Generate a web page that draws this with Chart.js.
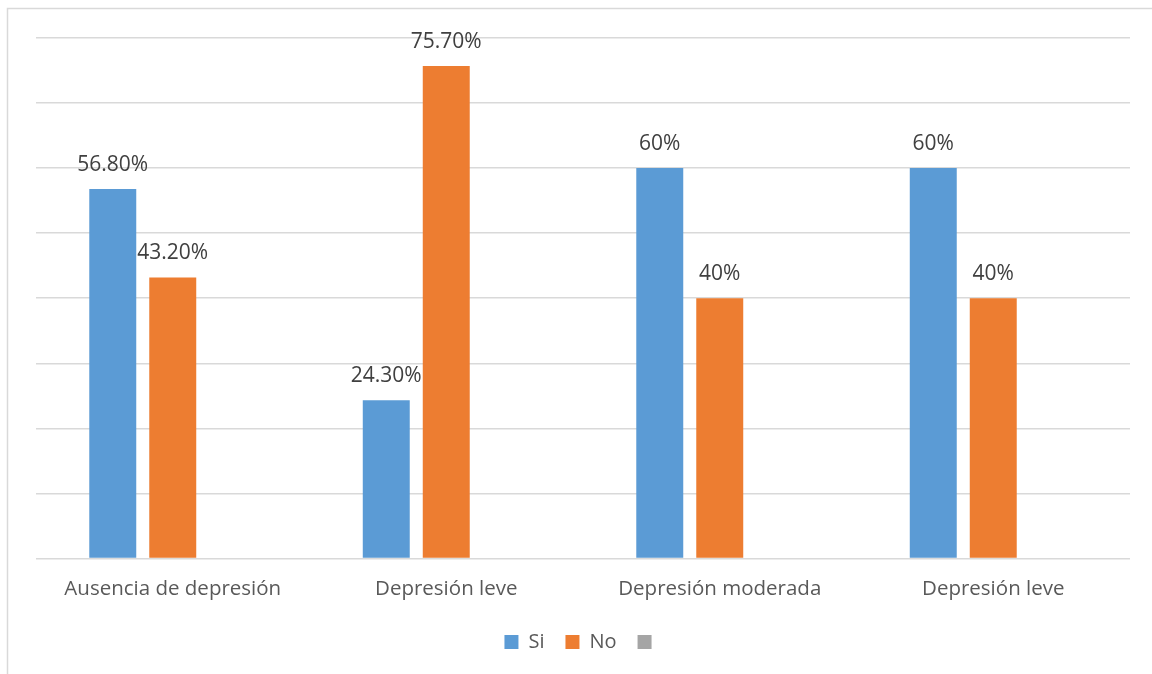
<!DOCTYPE html>
<html>
<head>
<meta charset="utf-8">
<script src="https://cdn.jsdelivr.net/npm/chart.js@4.4.0/dist/chart.umd.min.js"></script>
<style>
  html, body { margin: 0; padding: 0; background: #fff; }
  #wrap { width: 1152px; height: 674px; position: relative; }
</style>
</head>
<body>
<div id="wrap"><canvas id="chart" width="1152" height="674"></canvas></div>
<script>
const categories = ['Ausencia de depresión', 'Depresión leve', 'Depresión moderada', 'Depresión leve'];
const siValues = [56.8, 24.3, 60, 60];
const noValues = [43.2, 75.7, 40, 40];
const emptyValues = [null, null, null, null];

const fontFamily = "'Open Sans', 'Liberation Sans', sans-serif";
const textColor = '#595959';

function fmt(v) {
    return Number.isInteger(v) ? v + '%' : v.toFixed(2) + '%';
}

// draws the value above each bar
const valueLabels = {
    id: 'valueLabels',
    afterDatasetsDraw(chart) {
        const ctx = chart.ctx;
        ctx.save();
        ctx.font = '21px ' + fontFamily;
        ctx.fillStyle = '#404040';
        ctx.textAlign = 'center';
        ctx.textBaseline = 'middle';
        chart.data.datasets.forEach((ds, i) => {
            const meta = chart.getDatasetMeta(i);
            meta.data.forEach((bar, j) => {
                const v = ds.data[j];
                if (v === null || v === undefined) return;
                ctx.fillText(fmt(v), bar.x, bar.y - 24);
            });
        });
        ctx.restore();
    }
};

// frame lines around the chart
const frame = {
    id: 'frame',
    beforeDraw(chart) {
        const ctx = chart.ctx;
        ctx.save();
        ctx.strokeStyle = '#d9d9d9';
        ctx.lineWidth = 1.5;
        ctx.beginPath();
        ctx.moveTo(7.5, 674);
        ctx.lineTo(7.5, 8.5);
        ctx.lineTo(1152, 8.5);
        ctx.stroke();
        ctx.restore();
    }
};

new Chart(document.getElementById('chart'), {
    type: 'bar',
    data: {
        labels: categories,
        datasets: [
            { label: 'Si', data: siValues, backgroundColor: '#5b9bd5' },
            { label: 'No', data: noValues, backgroundColor: '#ed7d31' },
            { label: '', data: emptyValues, backgroundColor: '#a5a5a5' }
        ]
    },
    options: {
        responsive: false,
        animation: false,
        categoryPercentage: 0.658,
        barPercentage: 0.783,
        layout: {
            padding: { left: 36, right: 22, top: 38, bottom: 12 }
        },
        scales: {
            x: {
                grid: { display: false },
                border: { display: false },
                ticks: {
                    color: textColor,
                    padding: 10,
                    font: { family: fontFamily, size: 20.5 }
                }
            },
            y: {
                min: 0,
                max: 80,
                ticks: { display: false, stepSize: 10 },
                grid: { color: '#d9d9d9', lineWidth: 1.5, drawTicks: false },
                border: { display: false }
            }
        },
        plugins: {
            legend: {
                position: 'bottom',
                labels: {
                    color: textColor,
                    boxWidth: 14,
                    boxHeight: 14,
                    padding: 21,
                    font: { family: fontFamily, size: 20 }
                }
            },
            tooltip: { enabled: false }
        }
    },
    plugins: [valueLabels, frame]
});
</script>
</body>
</html>
